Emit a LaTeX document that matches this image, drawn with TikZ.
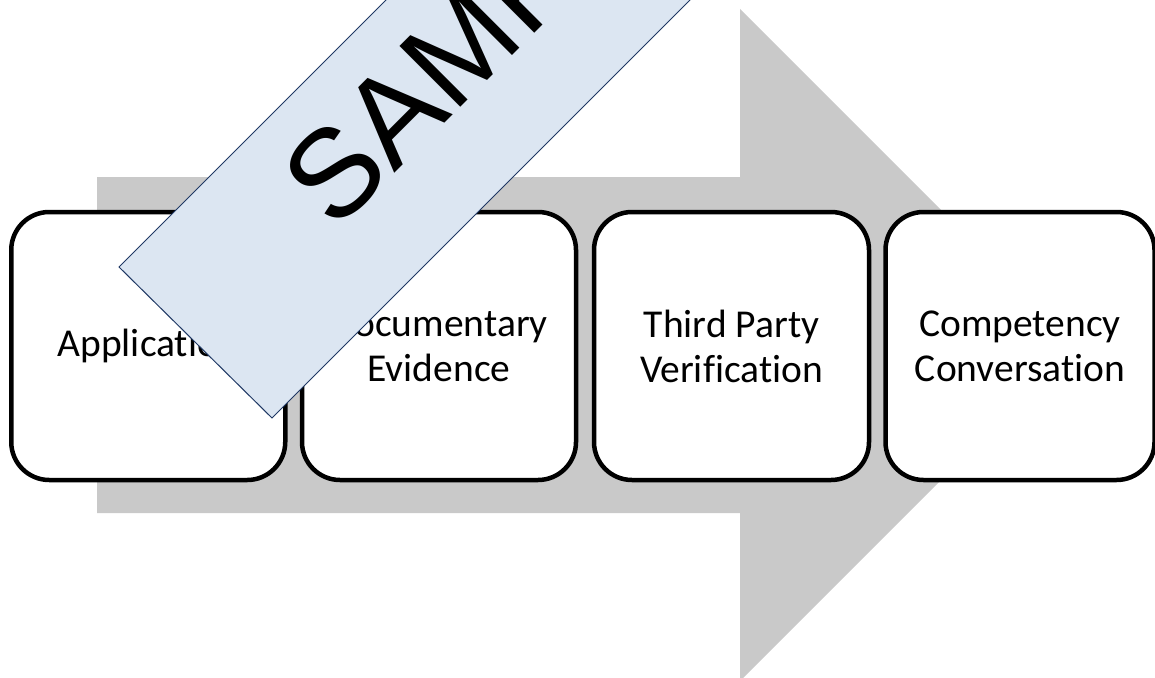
\documentclass[tikz,border=0pt]{standalone}
\usepackage{fontspec}
\setmainfont{Carlito}[Ligatures=NoCommon]
\newfontfamily\bannerfont{Liberation Sans}
\definecolor{arrowgray}{RGB}{201,201,201}
\definecolor{bannerfill}{RGB}{220,230,242}
\definecolor{bannerline}{RGB}{31,56,100}
\begin{document}
\begin{tikzpicture}[x=1pt,y=-1pt,
  stepbox/.style={draw=black, fill=white, line width=4.5pt, rounded corners=38pt,
    minimum width=274pt, minimum height=268pt, inner sep=0pt, align=center,
    font=\fontsize{39.5}{45}\selectfont},
  bigarrow/.style={fill=arrowgray},
  banner/.style={fill=bannerfill, draw=bannerline, line width=1pt}]
\useasboundingbox (0,0) rectangle (1155,677);
\clip (0,0) rectangle (1155,677);
% gray process arrow
\coordinate (s1) at (97,177);
\coordinate (s2) at (740,177);
\coordinate (h1) at (740,9);
\coordinate (tip) at (1076,345);
\coordinate (h2) at (740,681);
\coordinate (s3) at (740,513);
\coordinate (s4) at (97,513);
\fill[bigarrow] (s1) -- (s2) -- (h1) -- (tip) -- (h2) -- (s3) -- (s4) -- cycle;
% steps
\node[stepbox] (a1) at (148.25,346) {Application};
\node[stepbox] (a2) at (439,346) {Documentary\\Evidence};
\node[stepbox, minimum width=275pt] (a3) at (731.5,346) {Third Party\\Verification};
\node[stepbox, minimum width=269pt] (a4) at (1020,346) {Competency\\Conversation};
% SAMPLE banner
\coordinate (b1) at (119,267);
\coordinate (b2) at (272,418);
\coordinate (b3) at (972,-282);
\coordinate (b4) at (819,-433);
\filldraw[banner] (b1) -- (b2) -- (b3) -- (b4) -- cycle;
\node[anchor=base west, rotate=45, inner sep=0pt,
  font=\bannerfont\fontsize{125}{125}\selectfont] (stamp) at (335.5,232.5) {SAMPLE};
\end{tikzpicture}
\end{document}
